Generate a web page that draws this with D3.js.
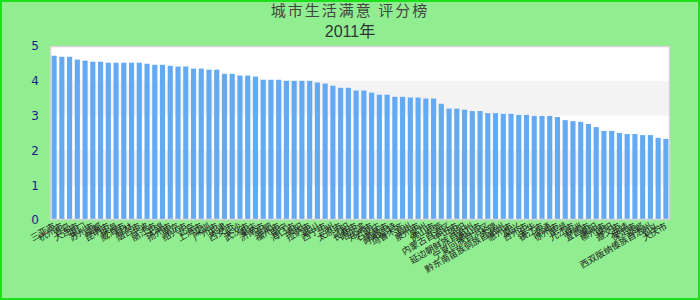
<!DOCTYPE html>
<html>
<head>
<meta charset="utf-8">
<script src="https://cdn.jsdelivr.net/npm/d3@7"></script>
<style>
  body { margin: 0; }
  svg { display: block; }
</style>
</head>
<body>
<script>
var width = 700,
    height = 300;

var title = "城市生活满意 评分榜";
var subtitle = "2011年";

var cities = [
  "三亚市", "杭州市", "青岛", "大连市", "厦门", "苏州市", "成都", "昆明市", "珠海", "威海市",
  "桂林", "烟台市", "宁波", "丽江市", "无锡", "扬州市", "南京", "绍兴市", "北京", "上海市",
  "深圳", "广州市", "天津", "西安市", "长沙", "武汉市", "重庆", "济南市", "合肥", "福州市",
  "南宁", "海口市", "贵阳", "拉萨市", "银川", "西宁市", "兰州", "太原市", "沈阳", "长春市",
  "哈尔滨", "郑州市", "石家庄", "南昌市", "呼和浩特", "乌鲁木齐", "温州", "泉州市", "常州", "佛山市",
  "东莞", "内蒙古自治区", "中山市", "洛阳", "延边朝鲜族自治州", "唐山市", "宁夏回族自治区", "大理", "黔东南苗族侗族自治州", "惠州市",
  "嘉兴", "台州市", "金华", "镇江市", "南通", "徐州市", "芜湖", "九江市", "株洲", "宜昌市",
  "襄阳", "柳州市", "绵阳", "遵义市", "曲靖", "保定市", "邯郸", "西双版纳傣族自治州", "包头", "大庆市"
];

var scores = [
  4.72, 4.69, 4.69, 4.61, 4.58, 4.55, 4.55, 4.52, 4.52, 4.52,
  4.52, 4.52, 4.49, 4.46, 4.46, 4.43, 4.41, 4.41, 4.35, 4.35,
  4.32, 4.32, 4.20, 4.20, 4.15, 4.15, 4.12, 4.03, 4.03, 4.03,
  4.00, 4.00, 4.00, 4.00, 3.95, 3.92, 3.86, 3.80, 3.80, 3.72,
  3.72, 3.66, 3.60, 3.60, 3.54, 3.54, 3.52, 3.52, 3.49, 3.49,
  3.34, 3.20, 3.20, 3.17, 3.13, 3.13, 3.07, 3.07, 3.05, 3.05,
  3.02, 3.02, 2.99, 2.99, 2.99, 2.96, 2.87, 2.84, 2.82, 2.76,
  2.67, 2.56, 2.56, 2.50, 2.47, 2.47, 2.44, 2.44, 2.36, 2.33
];

var yTicks = [0, 1, 2, 3, 4, 5];

var plot = { left: 50, right: 670, top: 46, bottom: 220 };

var svg = d3.select("body").append("svg")
    .attr("width", width)
    .attr("height", height);

// page background with bright green frame
svg.append("rect")
    .attr("x", 1).attr("y", 1)
    .attr("width", width - 2).attr("height", height - 2)
    .attr("fill", "#90ee90")
    .attr("stroke", "#1be01b")
    .attr("stroke-width", 2);

var x = d3.scaleBand()
    .domain(cities)
    .range([plot.left, plot.right])
    .paddingInner(0.34)
    .paddingOuter(0.2);

var y = d3.scaleLinear()
    .domain([0, 5])
    .range([plot.bottom, plot.top]);

// plot area with alternating bands
svg.append("rect")
    .attr("x", plot.left).attr("y", plot.top)
    .attr("width", plot.right - plot.left)
    .attr("height", plot.bottom - plot.top)
    .attr("fill", "#fff");

svg.selectAll(".band")
    .data(yTicks.slice(0, -1).filter(function (d) { return d % 2 === 1; }))
    .enter().append("rect")
    .attr("class", "band")
    .attr("x", plot.left)
    .attr("y", function (d) { return y(d + 1); })
    .attr("width", plot.right - plot.left)
    .attr("height", function (d) { return y(d) - y(d + 1); })
    .attr("fill", "#f3f3f3");

svg.selectAll(".bar")
    .data(scores)
    .enter().append("rect")
    .attr("class", "bar")
    .attr("x", function (d, i) { return x(cities[i]); })
    .attr("y", function (d) { return y(d); })
    .attr("width", x.bandwidth())
    .attr("height", function (d) { return y(0) - y(d); })
    .attr("fill", "#64aaf2");

svg.append("rect")
    .attr("x", plot.left + 0.5).attr("y", plot.top + 0.5)
    .attr("width", plot.right - plot.left - 1)
    .attr("height", plot.bottom - plot.top - 1)
    .attr("fill", "none")
    .attr("stroke", "#d4d4d4")
    .attr("stroke-width", 1.5);

// y axis
var yAxis = svg.append("g")
    .attr("transform", "translate(" + (plot.left - 11) + ",0)")
    .call(d3.axisLeft(y).tickValues(yTicks).tickFormat(d3.format("d")).tickSize(0).tickPadding(0));
yAxis.select(".domain").remove();
yAxis.selectAll("text")
    .attr("fill", "#1c1c8c")
    .style("font-family", "DejaVu Sans, sans-serif")
    .style("font-size", "12px");

// x labels
svg.selectAll(".xlabel")
    .data(cities)
    .enter().append("text")
    .attr("class", "xlabel")
    .attr("transform", function (d) {
        return "translate(" + (x(d) + x.bandwidth() / 2 + 2) + "," + (plot.bottom + 8) + ") rotate(-30)";
    })
    .attr("text-anchor", "end")
    .attr("fill", "#222")
    .style("font-family", "Noto Sans CJK SC, sans-serif")
    .style("font-size", "9px")
    .text(function (d) { return d; });

// titles
svg.append("text")
    .attr("x", width / 2).attr("y", 16)
    .attr("text-anchor", "middle")
    .attr("fill", "#444")
    .style("font-family", "Noto Sans CJK SC, sans-serif")
    .style("font-size", "15px")
    .style("letter-spacing", "2px")
    .text(title);

svg.append("text")
    .attr("x", width / 2).attr("y", 37)
    .attr("text-anchor", "middle")
    .attr("fill", "#333")
    .style("font-family", "Liberation Sans, Noto Sans CJK SC, sans-serif")
    .style("font-size", "16px")
    .text(subtitle);
</script>
</body>
</html>
